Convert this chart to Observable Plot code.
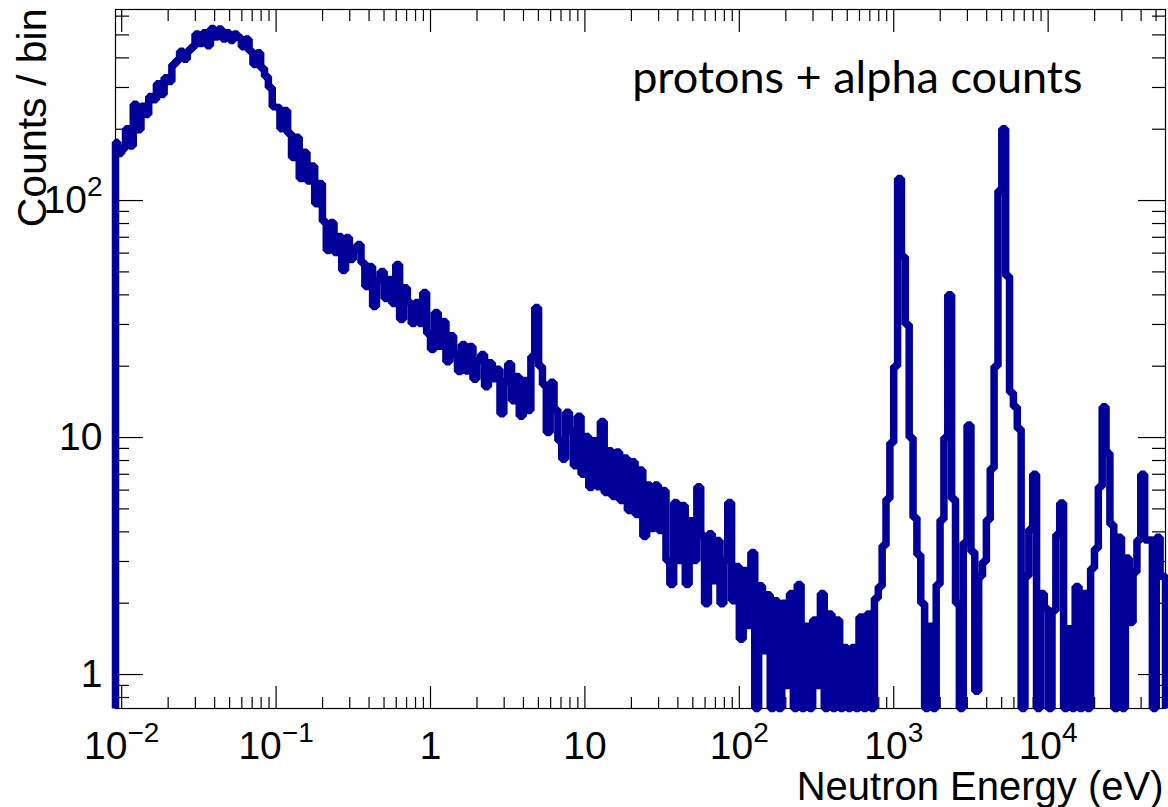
<!DOCTYPE html>
<html><head><meta charset="utf-8">
<script src="https://cdn.jsdelivr.net/npm/d3@7"></script>
<script src="https://cdn.jsdelivr.net/npm/@observablehq/plot@0.6"></script>
<style>
html,body{margin:0;padding:0;background:#fff;}
#chart{width:1168px;height:807px;}
</style></head><body><div id="chart"></div>
<script>
// ---- data (counts per log-spaced bin, 40 bins per decade) ----
const binsPerDecade = 40;
const xRangeLog = [-2.04, 4.76];
const yDomain = [0.719, 640];

const countsBelow1e_2 = [176, 158];
const counts1e_2 = [166, 201, 170, 255, 199, 250, 231, 275, 266, 311, 280, 330, 318, 375, 390, 427, 395, 430, 446, 505,
                    460, 510, 450, 532, 490, 530, 480, 510, 473, 505, 487, 446, 480, 427, 375, 420, 362, 334, 300, 249];
const counts1e_1 = [247, 201, 240, 192, 152, 185, 124, 160, 121, 140, 97, 118, 81.5, 61.5, 80.8, 60.3, 70.5, 50.7, 69.8, 56.4,
                    62.1, 65.2, 54.7, 43.4, 52.7, 35.7, 46.0, 50.2, 38.6, 46.4, 36.8, 53.7, 31.5, 42.9, 37.1, 30.3, 37.1, 30.3, 40.9, 27.5];
const counts1e0 = [23.5, 33.7, 24.3, 30.9, 20.9, 26.9, 22.4, 19.0, 24.7, 19.1, 24.2, 17.6, 21.1, 22.4, 16.4, 20.7, 17.7, 19.4, 12.6, 17.2,
                   20.5, 14.3, 18.1, 12.3, 17.4, 13.0, 22, 35.4, 20, 16.7, 10.5, 17.1, 13.1, 9.7, 8.1, 12.8, 10.7, 7.6, 12.3, 7.0];
const counts1e1 = [10.1, 6.15, 9.7, 6.2, 11.7, 5.86, 8.8, 5.64, 8.7, 5.42, 8.2, 4.92, 7.9, 4.73, 7.3, 3.82, 6.3, 4.13, 6.3, 4.05,
                   5.98, 3.03, 2.40, 5.32, 3.03, 5.17, 2.40, 4.46, 3.03, 6.2, 3.86, 1.99, 3.93, 2.49, 3.68, 1.99, 3.03, 5.32, 2.05, 2.86];
const counts1e2 = [1.41, 2.75, 1.61, 3.27, 0, 2.37, 1.26, 2.17, 0, 2.05, 0, 2.0, 0.9, 2.2, 0, 2.4, 0, 1.6, 0, 1.7,
                   0.9, 2.2, 0, 1.8, 0, 1.7, 0, 1.3, 0, 1.3, 0, 1.75, 0, 1.8, 0, 2.1, 2.35, 3.5, 5.5, 9.5];
const counts1e3 = [20, 124, 58, 30, 10, 4.6, 3.2, 2.0, 0, 1.6, 0, 2.4, 4.5, 10, 40, 5.5, 2.0, 0, 3.6, 11.3,
                   3.3, 0.85, 2.6, 3.0, 4.5, 7.4, 20, 110, 201, 48, 15.5, 13.5, 10.9, 0, 2.6, 4.1, 7.0, 0, 2.2, 1.9];
const counts1e4 = [0, 1.86, 3.9, 5.3, 0, 1.56, 0, 2.35, 0, 2.2, 0, 2.8, 3.4, 6.2, 13.5, 8.6, 4.3, 0, 3.8, 0,
                   3.1, 1.66, 2.7, 3.7, 7.0, 3.7, 3.7, 0, 3.8, 2.6, 2.6];

const xMajorTicks = [0.01, 0.1, 1, 10, 100, 1000, 10000];
const xMajorLabels = ["10^\u22122", "10^\u22121", "1", "10", "10^2", "10^3", "10^4"];
const yMajorTicks = [1, 10, 100];
const yMajorLabels = ["1", "10", "10^2"];
const minorMultipliers = [2, 3, 4, 5, 6, 7, 8, 9];
const yMinorExtra = [0.8, 0.9];

const titleText = "protons + alpha counts";
const xLabelText = "Neutron Energy (eV)";
const yLabelText = "Counts / bin";

// ---- build histogram outline ----
const blocks = [[-2.05, countsBelow1e_2], [-2, counts1e_2], [-1, counts1e_1], [0, counts1e0],
                [1, counts1e1], [2, counts1e2], [3, counts1e3], [4, counts1e4]];
const bins = [];
for (const [start, vals] of blocks) {
  vals.forEach((v, j) => {
    const lo = Math.max(start + j / binsPerDecade, xRangeLog[0]);
    const hi = Math.min(start + (j + 1) / binsPerDecade, xRangeLog[1]);
    if (hi > lo) bins.push({x0: 10 ** lo, x1: 10 ** hi, count: v});
  });
}
const floorY = yDomain[0];
const yv = c => (c > 0 ? c : floorY);
const pts = [{x: bins[0].x0, y: floorY}];
for (const b of bins) pts.push({x: b.x0, y: yv(b.count)});
const lastBin = bins[bins.length - 1];
pts.push({x: lastBin.x1, y: yv(lastBin.count)}, {x: lastBin.x1, y: floorY});

const xMin = 10 ** xRangeLog[0], xMax = 10 ** xRangeLog[1];
const xMinor = [];
for (let d = -3; d <= 4; d++) for (const m of minorMultipliers) {
  const v = m * 10 ** d; if (v >= xMin && v <= xMax) xMinor.push(v);
}
const yMinor = [...yMinorExtra];
for (let d = 0; d <= 2; d++) for (const m of minorMultipliers) {
  const v = m * 10 ** d; if (v >= yDomain[0] && v <= yDomain[1]) yMinor.push(v);
}

const chart = Plot.plot({
  width: 1168, height: 807,
  marginLeft: 115, marginRight: 3, marginTop: 9, marginBottom: 99,
  style: {fontFamily: "'Liberation Sans', Arial, Helvetica, sans-serif", background: "#fff", color: "#000"},
  x: {type: "log", domain: [xMin, xMax]},
  y: {type: "log", domain: yDomain},
  marks: [
    Plot.frame({stroke: "#000", strokeWidth: 1.2}),
    Plot.axisX(xMinor, {anchor: "bottom", tickSize: -11, fill: "none", label: null, strokeWidth: 1.2}),
    Plot.axisX(xMinor, {anchor: "top", tickSize: -11, fill: "none", label: null, strokeWidth: 1.2}),
    Plot.axisX(xMajorTicks, {anchor: "bottom", tickSize: -22, tickPadding: 45, fontSize: 39, strokeWidth: 1.2,
      tickFormat: d => xMajorLabels[xMajorTicks.indexOf(d)], label: null}),
    Plot.axisX(xMajorTicks, {anchor: "top", tickSize: -22, fill: "none", label: null, strokeWidth: 1.2}),
    Plot.axisY(yMinor, {anchor: "left", tickSize: -14, fill: "none", label: null, strokeWidth: 1.2}),
    Plot.axisY(yMinor, {anchor: "right", tickSize: -14, fill: "none", label: null, strokeWidth: 1.2}),
    Plot.axisY(yMajorTicks, {anchor: "left", tickSize: -28, tickPadding: 41, fontSize: 39, strokeWidth: 1.2,
      tickFormat: d => yMajorLabels[yMajorTicks.indexOf(d)], label: null}),
    Plot.axisY(yMajorTicks, {anchor: "right", tickSize: -28, fill: "none", label: null, strokeWidth: 1.2}),
    Plot.line(pts, {x: "x", y: "y", curve: "step-after", stroke: "#000099", strokeWidth: 7.5,
      strokeLinejoin: "miter", strokeLinecap: "butt"}),
    Plot.text([yLabelText], {frameAnchor: "top-left", text: d => d, rotate: -90, textAnchor: "end",
      lineAnchor: "middle", dx: -83, dy: -1, fontSize: 41, fill: "#000"}),
    Plot.text([xLabelText], {frameAnchor: "bottom-right", text: d => d, textAnchor: "end",
      lineAnchor: "bottom", dx: -2, dy: 91, fontSize: 40, fill: "#000"}),
    Plot.text([titleText], {frameAnchor: "top-right", text: d => d, textAnchor: "end",
      lineAnchor: "bottom", dx: -83, dy: 83, fontSize: 45, fontFamily: "Lato, 'Open Sans', sans-serif", fill: "#000"})
  ]
});

// superscripts in tick labels
const NS = "http://www.w3.org/2000/svg";
chart.querySelectorAll('[aria-label$="tick label"] text').forEach(t => {
  const s = t.textContent; const k = s.indexOf("^");
  if (k < 0) return;
  t.textContent = "";
  const a = document.createElementNS(NS, "tspan"); a.textContent = s.slice(0, k);
  const b = document.createElementNS(NS, "tspan"); b.textContent = s.slice(k + 1);
  b.setAttribute("dy", "-17"); b.setAttribute("font-size", "28");
  t.append(a, b);
});
document.getElementById("chart").append(chart);
</script></body></html>
